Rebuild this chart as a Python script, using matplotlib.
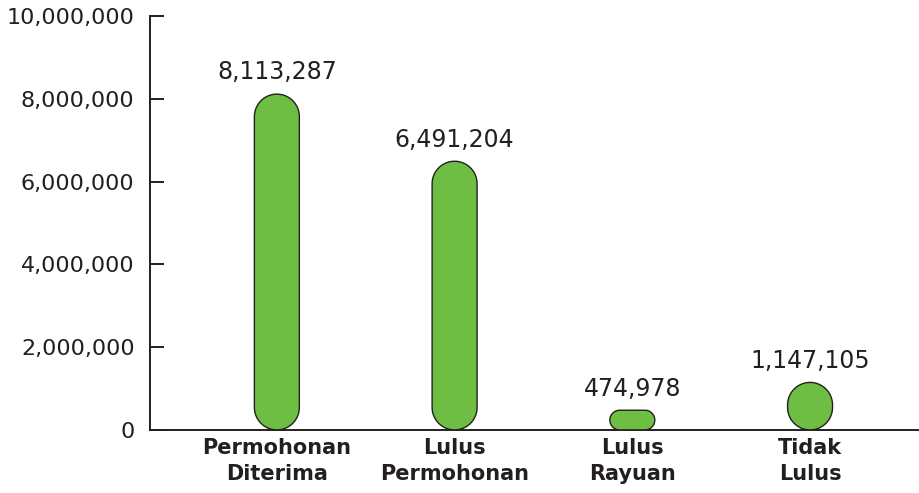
import matplotlib
matplotlib.use('Agg')
import numpy as np
import matplotlib.pyplot as plt
from matplotlib.patches import PathPatch
from matplotlib.path import Path
from matplotlib.ticker import FuncFormatter

categories = ['Permohonan\nDiterima', 'Lulus\nPermohonan', 'Lulus\nRayuan', 'Tidak\nLulus']
values = [8113287, 6491204, 474978, 1147105]
yticks = [0, 2000000, 4000000, 6000000, 8000000, 10000000]

green = '#6fbe44'
ink = '#231f20'

fig = plt.figure(figsize=(9.19, 4.93), dpi=100)
ax = fig.add_axes([0.163, 0.128, 0.837, 0.8395])
ax.set_xlim(-0.715, 3.613)
ax.set_ylim(0, 10000000)

# data units per pixel, so the round corners come out circular on screen
fig.canvas.draw()
bb = ax.get_window_extent()
xpp = (3.613 + 0.715) / bb.width
ypp = 10000000 / bb.height


def pill(xc, w, h):
    """rounded bar from 0 to h, corner radius = half of the shorter side (in pixels)"""
    w_px, h_px = w / xpp, h / ypp
    r = min(w_px, h_px) / 2
    rx, ry = r * xpp, r * ypp
    x0, x1 = xc - w / 2, xc + w / 2
    t = np.linspace(0, np.pi / 2, 20)
    pts = []
    # corner centres: bottom-right, top-right, top-left, bottom-left
    for cx, cy, a0 in [(x1 - rx, ry, -np.pi / 2), (x1 - rx, h - ry, 0),
                       (x0 + rx, h - ry, np.pi / 2), (x0 + rx, ry, np.pi)]:
        a = a0 + t
        pts += list(zip(cx + rx * np.cos(a), cy + ry * np.sin(a)))
    pts.append(pts[0])
    return Path(pts, closed=True)


bar_w = 0.253
for i, v in enumerate(values):
    ax.add_patch(PathPatch(pill(i, bar_w, v), facecolor=green, edgecolor=ink,
                           linewidth=1.0, zorder=3))
    ax.annotate('{:,}'.format(v), (i, v), xytext=(0, 7), textcoords='offset points',
                ha='center', va='bottom', fontsize=17, color=ink)

for s in ['top', 'right']:
    ax.spines[s].set_visible(False)
for s in ['left', 'bottom']:
    ax.spines[s].set_color(ink)
    ax.spines[s].set_linewidth(1.4)

ax.set_yticks(yticks)
ax.yaxis.set_major_formatter(FuncFormatter(lambda y, _: '{:,.0f}'.format(y)))
ax.tick_params(axis='y', direction='in', length=10, width=1.4, color=ink,
               pad=11, labelsize=16, labelcolor=ink)
ax.set_xticks(range(len(categories)))
ax.set_xticklabels(categories, fontsize=15, fontweight='bold', color=ink, linespacing=1.35)
ax.tick_params(axis='x', length=0, pad=6)

fig.savefig('out.png', dpi=100)
